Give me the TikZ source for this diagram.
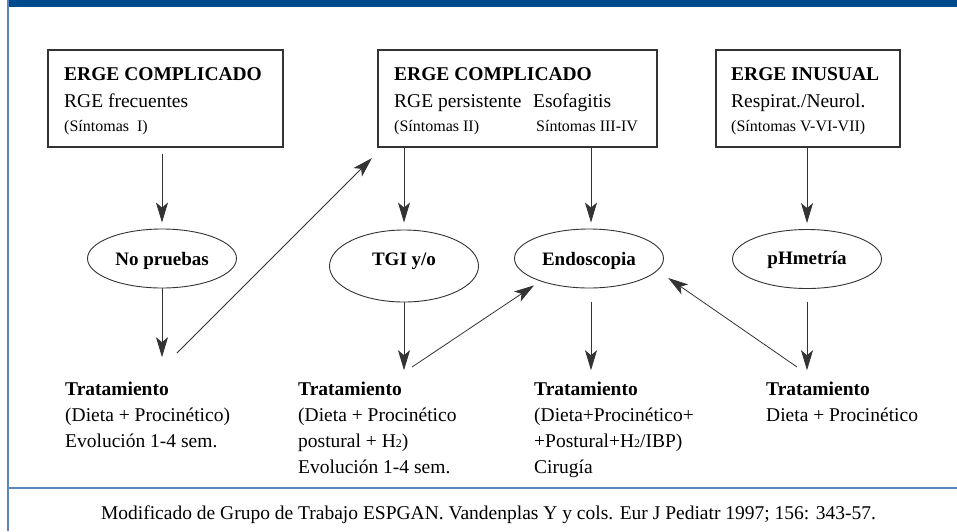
\documentclass[tikz,border=0pt]{standalone}
\usepackage{fontspec}
\setmainfont{Liberation Serif}
\usetikzlibrary{arrows.meta,shapes.geometric}
\definecolor{barblue}{HTML}{004A8E}
\definecolor{ruleblue}{HTML}{5B85C0}
\definecolor{ink}{HTML}{333333}
\newcommand{\chico}{\fontsize{16}{19}\selectfont}
\newcommand{\bajo}[1]{{\fontsize{12}{12}\selectfont #1}}

\begin{document}
\begin{tikzpicture}[x=1pt, y=-1pt,
    caja/.style={draw=ink, line width=1.1pt, minimum height=97pt, inner sep=0pt},
    ovalo/.style={ellipse, draw=ink, line width=0.9pt, minimum width=149pt, minimum height=59pt,
      inner sep=0pt, font=\fontsize{19}{23}\selectfont\bfseries, text height=13pt, text depth=0pt},
    texto/.style={anchor=north west, inner sep=0pt, align=left, font=\fontsize{19.5}{25.7}\selectfont},
    cabeza/.style={texto, font=\fontsize{19.5}{27}\selectfont},
    flecha/.style={draw=ink, line width=0.8pt, -{Stealth[length=20pt, width=12pt, inset=5pt]}}]
    \useasboundingbox (0,0) rectangle (957,531);

    % Frame
    \fill[barblue] (7,0) rectangle (957,7);
    \draw[ruleblue, line width=1.6pt] (8,0) -- (8,531);
    \draw[ruleblue, line width=1.6pt] (8,488) -- (957,488);

    % Column 1: ERGE complicado, no pruebas
    \node[caja, minimum width=235pt] (b1) at (165.5,98.5) {};
    \node[cabeza] (b1t) at (64,67.2) {\textbf{ERGE COMPLICADO}\\ RGE frecuentes\\[-3pt] {\chico (Síntomas~~I)}};
    \node[ovalo] (e1) at (162,258.5) {No pruebas};
    \node[texto] (t1) at (65,382.2) {\textbf{Tratamiento}\\ (Dieta + Procinético)\\ Evolución 1-4 sem.};
    \draw[flecha, shorten <=6pt, shorten >=6pt] (e1.north |- b1.south) -- (e1.north);
    \draw[flecha, shorten >=25pt] (e1.south) -- (e1.south |- t1.north);

    % Columns 2 and 3: ERGE complicado, TGI / endoscopia
    \node[caja, minimum width=279pt] (b2) at (517.5,98.5) {};
    \node[cabeza] (b2t) at (394,67.2) {\textbf{ERGE COMPLICADO}\\ \makebox[139pt][l]{RGE persistente}Esofagitis\\[-3pt]
      {\chico\makebox[142pt][l]{(Síntomas II)}Síntomas III-IV}};
    \node[ovalo, minimum height=72pt, text depth=15pt] (e2) at (404,266) {TGI y/o};
    \node[ovalo] (e3) at (589,258.5) {Endoscopia};
    \node[texto] (t2) at (298,382.2) {\textbf{Tratamiento}\\ (Dieta + Procinético\\ postural + H\bajo{2})\\ Evolución 1-4 sem.};
    \node[texto] (t3) at (534,382.2) {\textbf{Tratamiento}\\ (Dieta+Procinético+\\ +Postural+H\bajo{2}/IBP)\\ Cirugía};
    \draw[flecha, shorten >=7pt] (e2.north |- b2.south) -- (e2.north);
    \draw[flecha, shorten >=12pt] (e2.south) -- (e2.south |- t2.north);
    \draw[flecha, shorten >=6pt] ([xshift=2pt]e3.north |- b2.south) -- ([xshift=2pt]e3.north);
    \draw[flecha, shorten <=14pt, shorten >=12pt] ([xshift=2pt]e3.south) -- ([xshift=2pt]e3.south |- t3.north);

    % Column 4: ERGE inusual, pHmetria
    \node[caja, minimum width=184pt] (b3) at (808,98.5) {};
    \node[cabeza] (b3t) at (731,67.2) {\textbf{ERGE INUSUAL}\\ Respirat./Neurol.\\[-3pt] {\chico (Síntomas V-VI-VII)}};
    \node[ovalo, text depth=2pt] (e4) at (807,259) {pHmetría};
    \node[texto] (t4) at (766,382.2) {\textbf{Tratamiento}\\ Dieta + Procinético};
    \draw[flecha, shorten >=6pt] (e4.north |- b3.south) -- (e4.north);
    \draw[flecha, shorten <=13pt, shorten >=12pt] (e4.south) -- (e4.south |- t4.north);

    % Transitions between columns
    \coordinate (c1) at (177,353);
    \coordinate (c2) at (412,367);
    \coordinate (c3) at (797,367);
    \draw[flecha, shorten >=15pt] (c1) -- ([xshift=5pt]b2.south west);
    \draw[flecha, shorten >=7.5pt] (c2) -- (e3.-155);
    \draw[flecha, shorten >=13pt] (c3) -- (e3.-10);

    % Source
    \node[anchor=base, inner sep=0pt, font=\fontsize{19.5}{22}\selectfont] (ref) at (488.5,519)
      {Modificado de Grupo de Trabajo ESPGAN. Vandenplas Y y cols. Eur J Pediatr 1997; 156: 343-57.};
\end{tikzpicture}
\end{document}
